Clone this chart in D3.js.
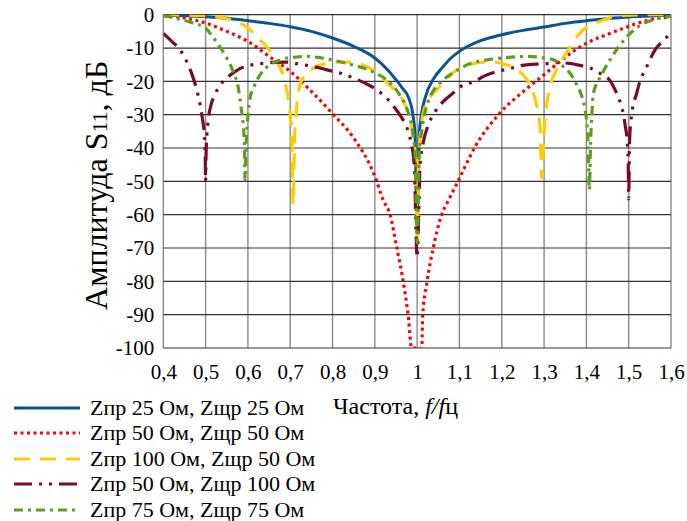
<!DOCTYPE html>
<html>
<head>
<meta charset="utf-8">
<script src="https://cdn.jsdelivr.net/npm/d3@7"></script>
<style>
  body { margin: 0; background: #fff; }
  svg { display: block; font-family: "Liberation Serif", "Times New Roman", serif; }
</style>
</head>
<body>
<div id="chart"></div>
<script>
const width = 687;
const height = 521;

// x ticks (f/fц) and y ticks (dB)
const xTicks = [0.4, 0.5, 0.6, 0.7, 0.8, 0.9, 1.0, 1.1, 1.2, 1.3, 1.4, 1.5, 1.6];
const yTicks = [0, -10, -20, -30, -40, -50, -60, -70, -80, -90, -100];

const seriesNames = [
  "Zпр 25 Ом, Zщр 25 Ом",
  "Zпр 50 Ом, Zщр 50 Ом",
  "Zпр 100 Ом, Zщр 50 Ом",
  "Zпр 50 Ом, Zщр 100 Ом",
  "Zпр 75 Ом, Zщр 75 Ом"
];

// [f/fц, S11 dB]
const s25_25 = [
  [0.4, -0.2], [0.45, -0.3], [0.5, -0.6], [0.55, -1.1], [0.6, -1.8], [0.65, -2.6],
  [0.7, -3.6], [0.75, -5], [0.8, -7], [0.85, -9.5], [0.9, -13], [0.93, -16.5],
  [0.95, -19.5], [0.965, -22], [0.98, -25], [0.99, -30], [0.995, -36], [1.0, -63],
  [1.005, -36], [1.01, -30], [1.02, -24.5], [1.04, -19], [1.06, -15.8], [1.08, -13],
  [1.1, -11], [1.15, -7.8], [1.2, -6], [1.25, -4.7], [1.3, -3.7], [1.35, -2.6],
  [1.4, -1.8], [1.45, -1.2], [1.5, -0.7], [1.55, -0.4], [1.6, -0.1]
];

const s50_50 = [
  [0.4, -0.3], [0.45, -1], [0.5, -2.5], [0.55, -5], [0.6, -8], [0.65, -12.5],
  [0.7, -17], [0.75, -23], [0.8, -29.7], [0.85, -37], [0.9, -48.5], [0.92, -55.7],
  [0.936, -60], [0.952, -70], [0.967, -80], [0.979, -90.5], [0.987, -100],
  [1.011, -100], [1.013, -90.5], [1.023, -80.5], [1.038, -70], [1.058, -60],
  [1.074, -55.7], [1.098, -49.6], [1.137, -39.6], [1.192, -30], [1.255, -22.6],
  [1.3, -18], [1.338, -14], [1.369, -11], [1.409, -8], [1.448, -6], [1.5, -3.5],
  [1.55, -1.5], [1.6, -0.7]
];

const s100_50 = [
  [0.4, 0], [0.45, -0.1], [0.5, -0.4], [0.55, -1.2], [0.58, -2.4], [0.6, -4],
  [0.62, -6.5], [0.65, -10.5], [0.67, -14.5], [0.685, -19], [0.695, -25], [0.7, -30],
  [0.704, -38], [0.707, -57], [0.71, -38], [0.715, -28], [0.723, -21], [0.74, -17.5],
  [0.755, -16], [0.78, -14.8], [0.81, -14.2], [0.84, -14.2], [0.87, -15], [0.89, -16.2],
  [0.91, -18], [0.93, -20.5], [0.95, -23], [0.963, -25], [0.98, -30], [0.99, -36],
  [0.997, -45], [1.0, -67], [1.003, -45], [1.01, -33], [1.02, -27], [1.035, -24],
  [1.05, -22], [1.082, -17.7], [1.123, -15], [1.15, -14.3], [1.182, -14.2], [1.21, -15],
  [1.239, -16.7], [1.26, -19.5], [1.27, -22], [1.28, -26], [1.29, -33], [1.295, -49],
  [1.3, -35], [1.305, -28], [1.312, -22.7], [1.33, -16.5], [1.35, -12], [1.365, -9],
  [1.381, -6], [1.4, -3.8], [1.431, -2], [1.46, -0.8], [1.487, -0.2], [1.55, 0], [1.6, 0]
];

const s50_100 = [
  [0.4, -5.6], [0.42, -8], [0.44, -10.6], [0.455, -14], [0.467, -17.6], [0.478, -22],
  [0.487, -27], [0.493, -31.6], [0.497, -36], [0.499, -42], [0.5, -50], [0.501, -42],
  [0.505, -33], [0.513, -27], [0.522, -24], [0.535, -21], [0.55, -19], [0.575, -16.6],
  [0.6, -15.3], [0.63, -14.7], [0.66, -14.3], [0.69, -14.2], [0.715, -14.7], [0.74, -15.2],
  [0.77, -16], [0.8, -17], [0.826, -17.8], [0.853, -19.2], [0.881, -20.8], [0.905, -22.6],
  [0.924, -24.5], [0.945, -27.6], [0.962, -30.6], [0.975, -33.6], [0.985, -38], [0.993, -45],
  [1.0, -72.9], [1.007, -45], [1.015, -38], [1.025, -33.5], [1.043, -29], [1.062, -26],
  [1.085, -23.5], [1.11, -21], [1.133, -20.2], [1.157, -18.5], [1.185, -17.2], [1.215, -16.3],
  [1.245, -15.3], [1.27, -14.9], [1.298, -14.8], [1.33, -14.4], [1.36, -14.6], [1.385, -15.2],
  [1.409, -16], [1.435, -17.8], [1.456, -19.8], [1.468, -22.6], [1.478, -25.5], [1.487, -29.6],
  [1.492, -33.4], [1.496, -37.4], [1.499, -45], [1.5, -55.3], [1.502, -38], [1.507, -30],
  [1.519, -23.5], [1.527, -19.8], [1.539, -16.6], [1.562, -10.6], [1.584, -7.5], [1.6, -5.5]
];

const s75_75 = [
  [0.4, -0.2], [0.44, -1.4], [0.47, -2.5], [0.5, -4], [0.51, -5.5], [0.53, -9],
  [0.55, -13], [0.565, -17], [0.578, -22.5], [0.584, -28], [0.589, -33], [0.592, -40],
  [0.593, -49.6], [0.596, -38], [0.6, -30.5], [0.605, -25], [0.613, -22], [0.629, -18],
  [0.652, -15], [0.672, -13.8], [0.692, -13], [0.715, -12.7], [0.735, -12.5], [0.766, -12.8],
  [0.806, -13.8], [0.845, -15], [0.893, -17], [0.932, -20], [0.956, -23.5], [0.975, -28],
  [0.988, -34], [0.995, -42], [1.0, -68.5], [1.005, -42], [1.012, -34], [1.026, -26],
  [1.04, -22.5], [1.058, -20], [1.09, -17], [1.129, -14.5], [1.168, -13.5], [1.216, -12.8],
  [1.263, -12.5], [1.302, -13], [1.322, -13.5], [1.345, -15.5], [1.361, -17.5], [1.377, -21],
  [1.389, -24.4], [1.396, -28], [1.402, -34], [1.405, -42], [1.407, -52.5], [1.41, -38],
  [1.413, -30], [1.416, -24], [1.436, -18], [1.456, -13.5], [1.48, -9], [1.503, -5.7],
  [1.527, -3.2], [1.558, -1.5], [1.6, -0.5]
];

const series = [
  { data: s25_25,  color: "#0b5394", dash: null,           w: 3 },
  { data: s50_50,  color: "#ff0000", dash: "3,3.5",        w: 3.2 },
  { data: s100_50, color: "#ffcc00", dash: "16,10",        w: 3.2 },
  { data: s50_100, color: "#7a0a2a", dash: "18,7,3,7,3,7", w: 3.2 },
  { data: s75_75,  color: "#5e9e1c", dash: "9,5,3,5",      w: 3.2 }
];

const margin = { left: 163.3, right: 16, top: 14.7, bottom: 173 };
const x = d3.scaleLinear().domain([0.4, 1.6]).range([margin.left, width - margin.right]);
const y = d3.scaleLinear().domain([-100, 0]).range([height - margin.bottom, margin.top]);

const svg = d3.select("#chart").append("svg")
  .attr("width", width)
  .attr("height", height);

svg.append("defs").append("clipPath").attr("id", "plot")
  .append("rect")
  .attr("x", x(0.4)).attr("y", y(0))
  .attr("width", x(1.6) - x(0.4)).attr("height", y(-100) - y(0));

// grid
const grid = svg.append("g");
grid.selectAll("line.v")
  .data(xTicks)
  .join("line")
  .attr("class", "v")
  .attr("x1", d => x(d)).attr("x2", d => x(d))
  .attr("y1", y(0)).attr("y2", y(-100))
  .attr("stroke", "#8a8a8a")
  .attr("stroke-width", 1.4);

grid.selectAll("line.h")
  .data(yTicks)
  .join("line")
  .attr("class", "h")
  .attr("x1", x(0.4)).attr("x2", x(1.6))
  .attr("y1", d => y(d)).attr("y2", d => y(d))
  .attr("stroke", "#333")
  .attr("stroke-width", 1.2);

// axes
const xAxis = svg.append("g")
  .attr("transform", `translate(0,${y(-100)})`)
  .call(d3.axisBottom(x).tickValues(xTicks).tickSize(0).tickPadding(16)
    .tickFormat(d => d === 1 ? "1" : d3.format(".1f")(d).replace(".", ",")));
xAxis.select(".domain").remove();
xAxis.selectAll("text").attr("font-size", 21).attr("fill", "#000")
  .attr("font-family", "Liberation Serif, serif");

const yAxis = svg.append("g")
  .attr("transform", `translate(${x(0.4)},0)`)
  .call(d3.axisLeft(y).tickValues(yTicks).tickSize(0).tickPadding(9)
    .tickFormat(d => String(d)));
yAxis.select(".domain").remove();
yAxis.selectAll("text").attr("font-size", 21).attr("fill", "#000")
  .attr("font-family", "Liberation Serif, serif");

// curves
const line = d3.line()
  .curve(d3.curveMonotoneX)
  .x(d => x(d[0]))
  .y(d => y(Math.max(d[1], -100)));

svg.append("g")
  .attr("clip-path", "url(#plot)")
  .selectAll("path")
  .data(series)
  .join("path")
  .attr("d", d => line(d.data))
  .attr("fill", "none")
  .attr("stroke", d => d.color)
  .attr("stroke-width", d => d.w)
  .attr("stroke-dasharray", d => d.dash)
  .attr("stroke-linejoin", "round");

// axis titles
const yTitle = svg.append("text")
  .attr("transform", `translate(107,${(y(0) + y(-100)) / 2 + 4}) rotate(-90)`)
  .attr("text-anchor", "middle")
  .attr("font-size", 32);
yTitle.append("tspan").text("Амплитуда S");
yTitle.append("tspan").attr("font-size", 22).text("11");
yTitle.append("tspan").text(", дБ");

const xTitle = svg.append("text")
  .attr("x", 333)
  .attr("y", 414)
  .attr("font-size", 24);
xTitle.append("tspan").text("Частота, ");
xTitle.append("tspan").attr("font-style", "italic").text("f/f");
xTitle.append("tspan").text("ц");

// legend
const legend = svg.append("g");
const rowY = [408, 433, 459, 484, 510];
const items = legend.selectAll("g")
  .data(series)
  .join("g")
  .attr("transform", (d, i) => `translate(0,${rowY[i]})`);

items.append("line")
  .attr("x1", 14).attr("x2", 80)
  .attr("stroke", d => d.color)
  .attr("stroke-width", d => d.w)
  .attr("stroke-dasharray", d => d.dash);

items.append("text")
  .attr("x", 90)
  .attr("y", 7)
  .attr("font-size", 22)
  .text((d, i) => seriesNames[i]);
</script>
</body>
</html>
